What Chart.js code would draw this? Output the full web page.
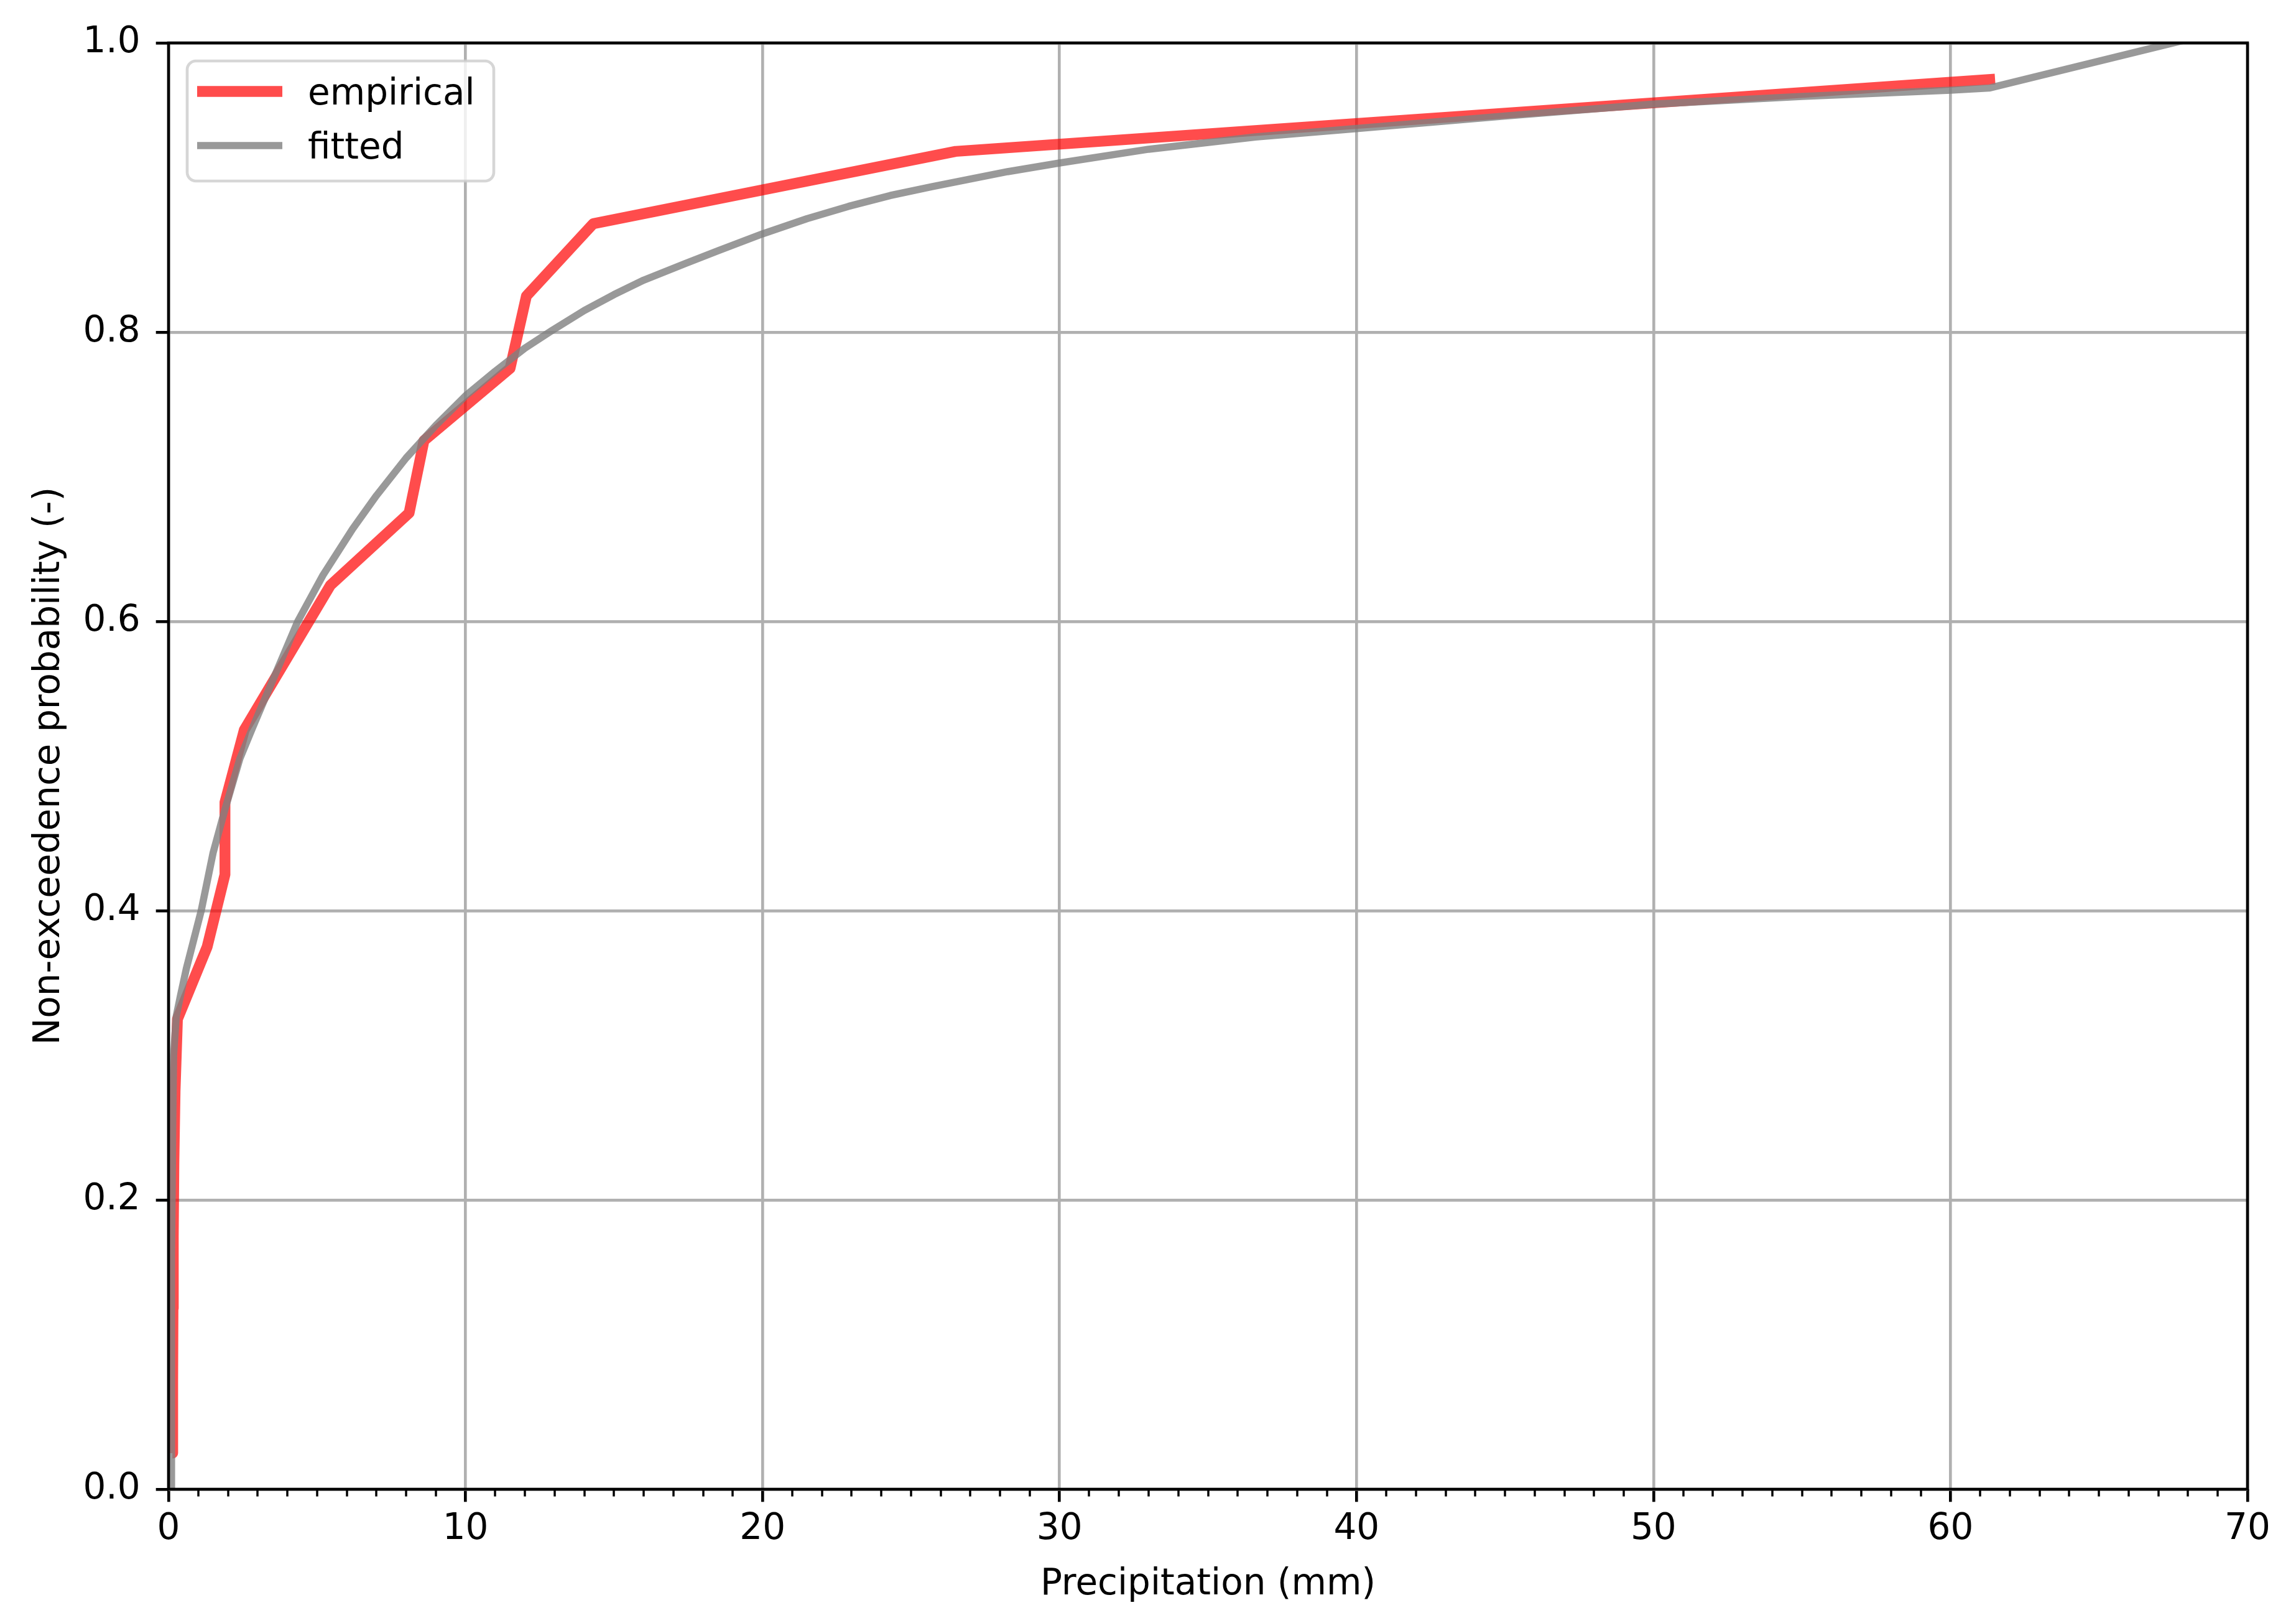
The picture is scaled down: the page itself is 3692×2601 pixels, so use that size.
<!DOCTYPE html>
<html>
<head>
<meta charset="utf-8">
<title>Empirical vs fitted distribution</title>
<script src="https://cdn.jsdelivr.net/npm/chart.js@4.4.1/dist/chart.umd.min.js"></script>
<style>
  html, body { margin: 0; padding: 0; background: #ffffff; }
  #wrap { width: 3692px; height: 2601px; }
</style>
</head>
<body>
<div id="wrap"><canvas id="myChart" width="3692" height="2601"></canvas></div>
<script>
// empirical non-exceedence (plotting positions) against sorted precipitation
const empiricalX = [0.13, 0.14, 0.15, 0.16, 0.18, 0.22, 0.3, 1.3, 1.9, 1.9,
                    2.55, 4.0, 5.45, 8.1, 8.6, 11.5, 12.05, 14.3, 26.5, 61.5];
const empiricalY = [0.025, 0.075, 0.125, 0.175, 0.225, 0.275, 0.325, 0.375, 0.425, 0.475,
                    0.525, 0.575, 0.625, 0.675, 0.725, 0.775, 0.825, 0.875, 0.925, 0.975];

// fitted curve
const fittedX = [0.09, 0.1, 0.14, 0.17, 0.26, 0.4, 0.6, 0.85, 1.1, 1.5, 1.9, 2.4, 2.8,
                 3.15, 3.75, 4.35, 5.2, 6.2, 7.0, 8.0, 9.0, 10.0, 11.0, 12.0, 12.9,
                 14, 15, 16, 17.4, 18.5, 20, 21.5, 22.9, 24.3, 25.7, 28.25, 30,
                 33, 36.6, 40, 45, 50, 55, 60, 61.3, 70];
const fittedY = [0.0, 0.16, 0.25, 0.30, 0.327, 0.341, 0.36, 0.38, 0.40, 0.44, 0.47, 0.505, 0.525,
                 0.542, 0.571, 0.600, 0.632, 0.664, 0.687, 0.713, 0.7355, 0.756, 0.773, 0.789, 0.801,
                 0.815, 0.826, 0.836, 0.8475, 0.8563, 0.868, 0.8785, 0.887, 0.8945, 0.9006, 0.911, 0.917,
                 0.9265, 0.935, 0.9408, 0.9495, 0.9577, 0.963, 0.9673, 0.9688, 1.0126];

const xTicks = [0, 10, 20, 30, 40, 50, 60, 70];
const yTicks = [0.0, 0.2, 0.4, 0.6, 0.8, 1.0];

const PT = 5.8; // one matplotlib point in pixels at this size

Chart.defaults.font.family = "'DejaVu Sans', sans-serif";
Chart.defaults.font.size = 58;
Chart.defaults.color = '#000000';

// outer frame of the axes, drawn over the lines like matplotlib spines
const spines = {
  id: 'spines',
  afterDatasetsDraw(chart) {
    const a = chart.chartArea;
    const ctx = chart.ctx;
    ctx.save();
    ctx.strokeStyle = '#000000';
    ctx.lineWidth = 0.8 * PT;
    ctx.strokeRect(a.left, a.top, a.right - a.left, a.bottom - a.top);
    ctx.restore();
  }
};

// minor ticks every 1 mm on the x axis
const minorTicks = {
  id: 'minorTicks',
  afterDraw(chart) {
    const xs = chart.scales.x;
    const ctx = chart.ctx;
    const bottom = chart.chartArea.bottom;
    ctx.save();
    ctx.strokeStyle = '#000000';
    ctx.lineWidth = 0.6 * PT;
    for (let v = Math.ceil(xs.min); v <= xs.max; v++) {
      if (v % 10 === 0) continue;
      const px = Math.round(xs.getPixelForValue(v));
      ctx.beginPath();
      ctx.moveTo(px, bottom);
      ctx.lineTo(px, bottom + 2 * PT);
      ctx.stroke();
    }
    ctx.restore();
  }
};

// matplotlib-style legend box in the upper left corner
const boxLegend = {
  id: 'boxLegend',
  afterDraw(chart) {
    const a = chart.chartArea;
    const ctx = chart.ctx;
    const x0 = a.left + 30, y0 = a.top + 29, w = 493, h = 193, r = 14;
    ctx.save();
    ctx.beginPath();
    ctx.roundRect(x0, y0, w, h, r);
    ctx.fillStyle = 'rgba(255,255,255,0.8)';
    ctx.fill();
    ctx.lineWidth = 0.8 * PT;
    ctx.strokeStyle = 'rgba(204,204,204,0.8)';
    ctx.stroke();
    const items = [chart.data.datasets[1], chart.data.datasets[0]];
    items.forEach((ds, i) => {
      const cy = y0 + 49 + i * 87;
      ctx.beginPath();
      ctx.moveTo(x0 + 16, cy);
      ctx.lineTo(x0 + 153, cy);
      ctx.lineWidth = ds.borderWidth;
      ctx.strokeStyle = ds.borderColor;
      ctx.lineCap = 'butt';
      ctx.stroke();
      ctx.fillStyle = '#000000';
      ctx.font = "58px 'DejaVu Sans'";
      ctx.textBaseline = 'alphabetic';
      ctx.fillText(ds.label, x0 + 194, cy + 21);
    });
    ctx.restore();
  }
};

const ctx = document.getElementById('myChart');
new Chart(ctx, {
  type: 'line',
  data: {
    datasets: [{
      label: 'fitted',
      data: fittedX.map((x, i) => ({ x: x, y: fittedY[i] })),
      borderColor: 'rgba(128,128,128,0.8)',
      borderWidth: 2 * PT,
      borderJoinStyle: 'round',
      pointRadius: 0,
      tension: 0,
      clip: 0,
      order: 0
    }, {
      label: 'empirical',
      data: empiricalX.map((x, i) => ({ x: x, y: empiricalY[i] })),
      borderColor: 'rgba(255,0,0,0.7)',
      borderWidth: 3 * PT,
      borderJoinStyle: 'round',
      pointRadius: 0,
      tension: 0,
      clip: 0,
      order: 1
    }]
  },
  plugins: [spines, minorTicks, boxLegend],
  options: {
    responsive: false,
    animation: false,
    devicePixelRatio: 1,
    layout: { padding: { top: 69, right: 78, left: 0, bottom: 0 } },
    plugins: {
      legend: { display: false },
      tooltip: { enabled: false }
    },
    scales: {
      x: {
        type: 'linear',
        min: 0,
        max: 70,
        afterFit: (scale) => { scale.height = 207; },
        afterBuildTicks: (scale) => { scale.ticks = xTicks.map(v => ({ value: v })); },
        ticks: {
          autoSkip: false,
          maxRotation: 0,
          padding: 10,
          callback: (v) => String(v)
        },
        grid: {
          color: '#b0b0b0',
          lineWidth: 0.8 * PT,
          tickColor: '#000000',
          tickWidth: 0.8 * PT,
          tickLength: 3.5 * PT
        },
        border: { display: false },
        title: {
          display: true,
          text: 'Precipitation (mm)',
          padding: { top: 0, bottom: 18 }
        }
      },
      y: {
        type: 'linear',
        min: 0,
        max: 1,
        afterFit: (scale) => { scale.width = 271; },
        afterBuildTicks: (scale) => { scale.ticks = yTicks.map(v => ({ value: v })); },
        ticks: {
          autoSkip: false,
          padding: 25,
          callback: (v) => Number(v).toFixed(1)
        },
        grid: {
          color: '#b0b0b0',
          lineWidth: 0.8 * PT,
          tickColor: '#000000',
          tickWidth: 0.8 * PT,
          tickLength: 3.5 * PT
        },
        border: { display: false },
        title: {
          display: true,
          text: 'Non-exceedence probability (-)',
          padding: { top: 45, bottom: 0 }
        }
      }
    }
  }
});
</script>
</body>
</html>
